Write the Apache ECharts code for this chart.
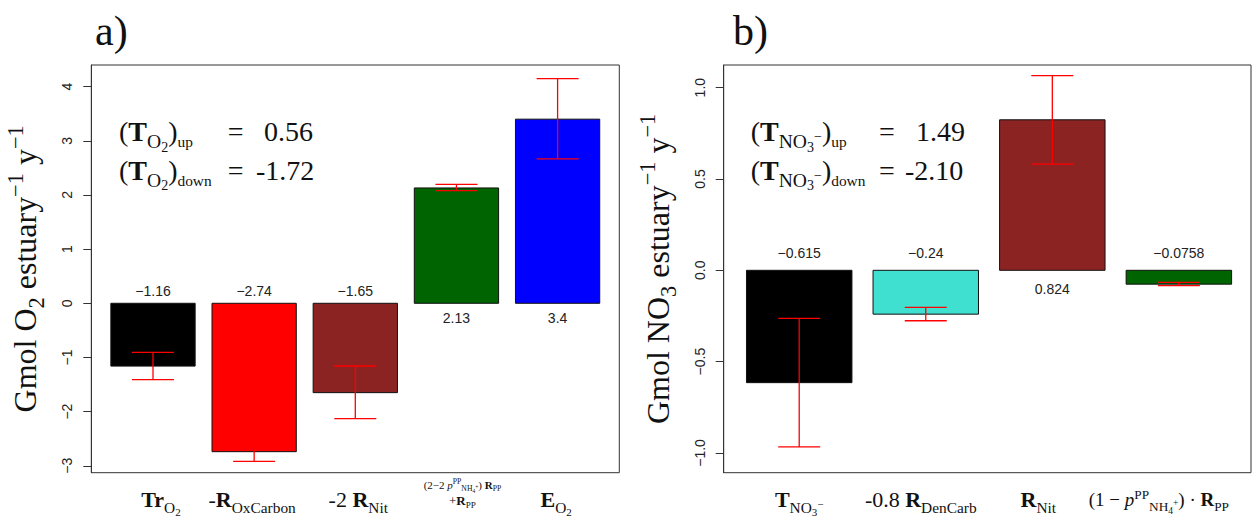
<!DOCTYPE html>
<html>
<head>
<meta charset="utf-8">
<script src="https://cdn.jsdelivr.net/npm/echarts@6/dist/echarts.min.js"></script>
<style>
html,body{margin:0;padding:0;background:#fff;}
#chart{width:1252px;height:521px;}
</style>
</head>
<body>
<div id="chart"></div>
<script>
// ---------------- DATA ----------------
// Panel a) O2 budget
const categoriesA = ['Tr O2', '-R OxCarbon', '-2 R Nit', '(2-2p)R PP + R PP', 'E O2'];
const valuesA   = [-1.16, -2.74, -1.65, 2.13, 3.4];
const errLowA   = [-1.41, -2.92, -2.13, 2.08, 2.665];
const errHighA  = [-0.905, -2.56, -1.158, 2.197, 4.15];
const yTicksA   = [-3, -2, -1, 0, 1, 2, 3, 4];
const transportA = { up: '0.56', down: '-1.72' };

// Panel b) NO3 budget
const categoriesB = ['T NO3-', '-0.8 R DenCarb', 'R Nit', '(1-p) R PP'];
const valuesB   = [-0.615, -0.24, 0.824, -0.0758];
const errLowB   = [-0.967, -0.276, 0.581, -0.084];
const errHighB  = [-0.263, -0.203, 1.066, -0.066];
const yTicksB   = [-1, -0.5, 0, 0.5, 1];
const transportB = { up: '1.49', down: '-2.10' };

// x-axis tick labels (rich text markup)
const xLabelsA = [
  '{b|Tr}{s|O}{ss|2}',
  '{r|-}{b|R}{s|OxCarbon}',
  '{r|-2 }{b|R}{s|Nit}',
  '{ar|(2\u22122 }{ai|p}{asup|PP}{as|NH}{ass|4}{assup|+}{ar|) }{ab|R}{as|PP}\n{cr|+}{cb|R}{cs|PP}',
  '{b|E}{s|O}{ss|2}'
];
const xLabelsB = [
  '{b|T}{s|NO}{ss|3}{ssup|\u2212}',
  '{r|-0.8 }{b|R}{s|DenCarb}',
  '{b|R}{s|Nit}',
  '{qr|(1 \u2212 }{qi|p}{qsup|PP}{qs|NH}{qss|4}{qssup|+}{qr|) \u00b7 }{qb|R}{qs|PP}'
];

// ---------------- LAYOUT / STYLE ----------------
const SERIF = "'Liberation Serif', 'DejaVu Serif', serif";
const SANS = "'Liberation Sans', Arial, sans-serif";
const INK = '#111';
const colorsA = ['#000000', '#FF0000', '#8B2323', '#006400', '#0000FF'];
const colorsB = ['#000000', '#40E0D0', '#8B2323', '#006400'];
// horizontal nudges of the x labels (px), as in the reference typesetting
const labelNudgeA = [8, -2, 3, 6, -1.5];
const labelNudgeB = [0, -5, -14, -20];

function tok(S, top, LH, extra) {
  const st = (extra && extra.fontStyle) || 'normal';
  const wt = (extra && extra.fontWeight) || 'normal';
  return Object.assign({
    fontFamily: SERIF, fontSize: S, fontStyle: st, fontWeight: wt,
    font: st + ' ' + wt + ' ' + S + 'px ' + SERIF,
    color: INK, fill: INK, verticalAlign: 'top', lineHeight: LH,
    padding: [Math.max(0, top), 0, 0, 0]
  }, extra || {});
}
function mk(prefix, S, top, LH) {
  const o = {};
  o[prefix + 'r'] = tok(S, top, LH);
  o[prefix + 'b'] = tok(S, top, LH, { fontWeight: 'bold' });
  o[prefix + 'i'] = tok(S, top, LH, { fontStyle: 'italic' });
  o[prefix + 's'] = tok(0.7 * S, top + 0.5 * S, LH);
  o[prefix + 'ss'] = tok(0.5 * S, top + 0.8 * S, LH);
  o[prefix + 'sup'] = tok(0.7 * S, top - 0.15 * S, LH);
  o[prefix + 'ssup'] = tok(0.5 * S, top + 0.42 * S, LH);
  o[prefix + 'u'] = tok(0.55 * S, top + 0.6 * S, LH);
  return o;
}

const xRichA = Object.assign({}, mk('', 22, 12.3, 47), mk('a', 11, 2.8, 14), mk('c', 13, 3.8, 25));
const xRichB = Object.assign({}, mk('', 22, 12.3, 47), mk('q', 19, 13.8, 45));

function idxOf(v) { return Math.round((v - 0.7) / 1.2); }
function fmtMinus(s) { return String(s).replace('-', '\u2212'); }

function makeRender(colors, offAbove, offBelow) {
  return function (params, api) {
    const i = params.dataIndex;
    const x = api.value(0), v = api.value(1), lo = api.value(2), hi = api.value(3);
    const p0 = api.coord([x - 0.5, 0]);
    const p1 = api.coord([x + 0.5, v]);
    const c0 = api.coord([x, 0]);
    const cl = api.coord([x, lo]);
    const ch = api.coord([x, hi]);
    const cap = 21;
    const red = { stroke: '#FF0000', lineWidth: 1.3 };
    return {
      type: 'group',
      children: [
        { type: 'rect', shape: { x: p0[0], y: Math.min(p0[1], p1[1]), width: p1[0] - p0[0], height: Math.abs(p1[1] - p0[1]) },
          style: { fill: colors[i], stroke: INK, lineWidth: 1 } },
        { type: 'line', shape: { x1: cl[0], y1: cl[1], x2: ch[0], y2: ch[1] }, style: red },
        { type: 'line', shape: { x1: cl[0] - cap, y1: cl[1], x2: cl[0] + cap, y2: cl[1] }, style: red },
        { type: 'line', shape: { x1: ch[0] - cap, y1: ch[1], x2: ch[0] + cap, y2: ch[1] }, style: red },
        { type: 'text', x: c0[0], y: v < 0 ? c0[1] - offAbove : c0[1] + offBelow,
          style: { text: fmtMinus(v), fontSize: 14, fontFamily: SANS, fill: '#222', align: 'center', verticalAlign: 'middle' } }
      ]
    };
  };
}

function yAxisFor(gridIndex, min, max, ticks, fmt, name) {
  return {
    type: 'value', gridIndex: gridIndex, min: min, max: max,
    axisLine: { show: true, onZero: false, lineStyle: { color: '#333', width: 1 } },
    axisTick: { show: true, length: 8, customValues: ticks, lineStyle: { color: '#333' } },
    axisLabel: { customValues: ticks, rotate: 90, margin: 17, fontSize: 14, fontFamily: SANS, color: '#222', formatter: fmt },
    splitLine: { show: false },
    name: name, nameLocation: 'middle', nameRotate: 90, nameGap: 40,
    nameTextStyle: { rich: mk('n', 32, 5, 47) }
  };
}

function xAxisFor(gridIndex, min, max, n, labels, rich, nudgePx, pxPerUnit) {
  const pos = [];
  for (let i = 0; i < n; i++) pos.push(0.7 + 1.2 * i + nudgePx[i] / pxPerUnit);
  return {
    type: 'value', gridIndex: gridIndex, min: min, max: max,
    axisLine: { show: false, onZero: false }, axisTick: { show: false }, splitLine: { show: false },
    axisLabel: { customValues: pos, margin: 4, hideOverlap: false, formatter: function (v) { return labels[idxOf(v)]; }, rich: rich }
  };
}

const annotRich = mk('', 28, 5, 45);
function annot(x, y, text) {
  return { type: 'text', x: x, y: y, style: { text: text, rich: annotRich, font: '28px ' + SERIF, align: 'left', verticalAlign: 'top', fill: INK } };
}

const chart = echarts.init(document.getElementById('chart'), null, { renderer: 'svg' });
chart.setOption({
  animation: false,
  backgroundColor: '#fff',
  grid: [
    { left: 91.3, top: 65, width: 528, height: 407.7, show: true, borderColor: '#333', borderWidth: 1, backgroundColor: 'transparent' },
    { left: 723.7, top: 65, width: 527.3, height: 407.7, show: true, borderColor: '#333', borderWidth: 1, backgroundColor: 'transparent' }
  ],
  xAxis: [
    xAxisFor(0, -0.032, 6.232, categoriesA.length, xLabelsA, xRichA, labelNudgeA, 528 / 6.264),
    xAxisFor(1, -0.016, 4.984, categoriesB.length, xLabelsB, xRichB, labelNudgeB, 527.3 / 5.0)
  ],
  yAxis: [
    yAxisFor(0, -3.128, 4.40, yTicksA, v => fmtMinus(v), '{nr|Gmol O}{ns|2}{nr| estuary}{nsup|\u22121}{nr| y}{nsup|\u22121}'),
    yAxisFor(1, -1.108, 1.124, yTicksB, v => fmtMinus(v.toFixed(1)), '{nr|Gmol NO}{ns|3}{nr| estuary}{nsup|\u22121}{nr| y}{nsup|\u22121}')
  ],
  series: [
    { type: 'custom', xAxisIndex: 0, yAxisIndex: 0, silent: true, clip: false,
      encode: { x: 0, y: 1 },
      renderItem: makeRender(colorsA, 12.6, 14.4),
      data: valuesA.map((v, i) => [0.7 + 1.2 * i, v, errLowA[i], errHighA[i]]) },
    { type: 'custom', xAxisIndex: 1, yAxisIndex: 1, silent: true, clip: false,
      encode: { x: 0, y: 1 },
      renderItem: makeRender(colorsB, 17.5, 18.4),
      data: valuesB.map((v, i) => [0.7 + 1.2 * i, v, errLowB[i], errHighB[i]]) }
  ],
  graphic: [
    { type: 'text', x: 95, y: 31, style: { text: 'a)', font: '42px ' + SERIF, fill: INK, verticalAlign: 'middle' } },
    { type: 'text', x: 733, y: 31, style: { text: 'b)', font: '42px ' + SERIF, fill: INK, verticalAlign: 'middle' } },
    annot(119, 112.7, '{r|(}{b|T}{s|O}{ss|2}{r|)}{u|up}'),
    annot(227.7, 112.7, '{r|=}'),
    annot(264, 112.7, '{r|' + transportA.up + '}'),
    annot(119, 151.5, '{r|(}{b|T}{s|O}{ss|2}{r|)}{u|down}'),
    annot(227.7, 151.5, '{r|=}'),
    annot(256, 151.5, '{r|' + transportA.down + '}'),
    annot(750.7, 112.7, '{r|(}{b|T}{s|NO}{ss|3}{ssup|\u2212}{r|)}{u|up}'),
    annot(879, 112.7, '{r|=}'),
    annot(916, 112.7, '{r|' + transportB.up + '}'),
    annot(750.7, 151.5, '{r|(}{b|T}{s|NO}{ss|3}{ssup|\u2212}{r|)}{u|down}'),
    annot(879, 151.5, '{r|=}'),
    annot(905, 151.5, '{r|' + transportB.down + '}')
  ]
});
</script>
</body>
</html>
